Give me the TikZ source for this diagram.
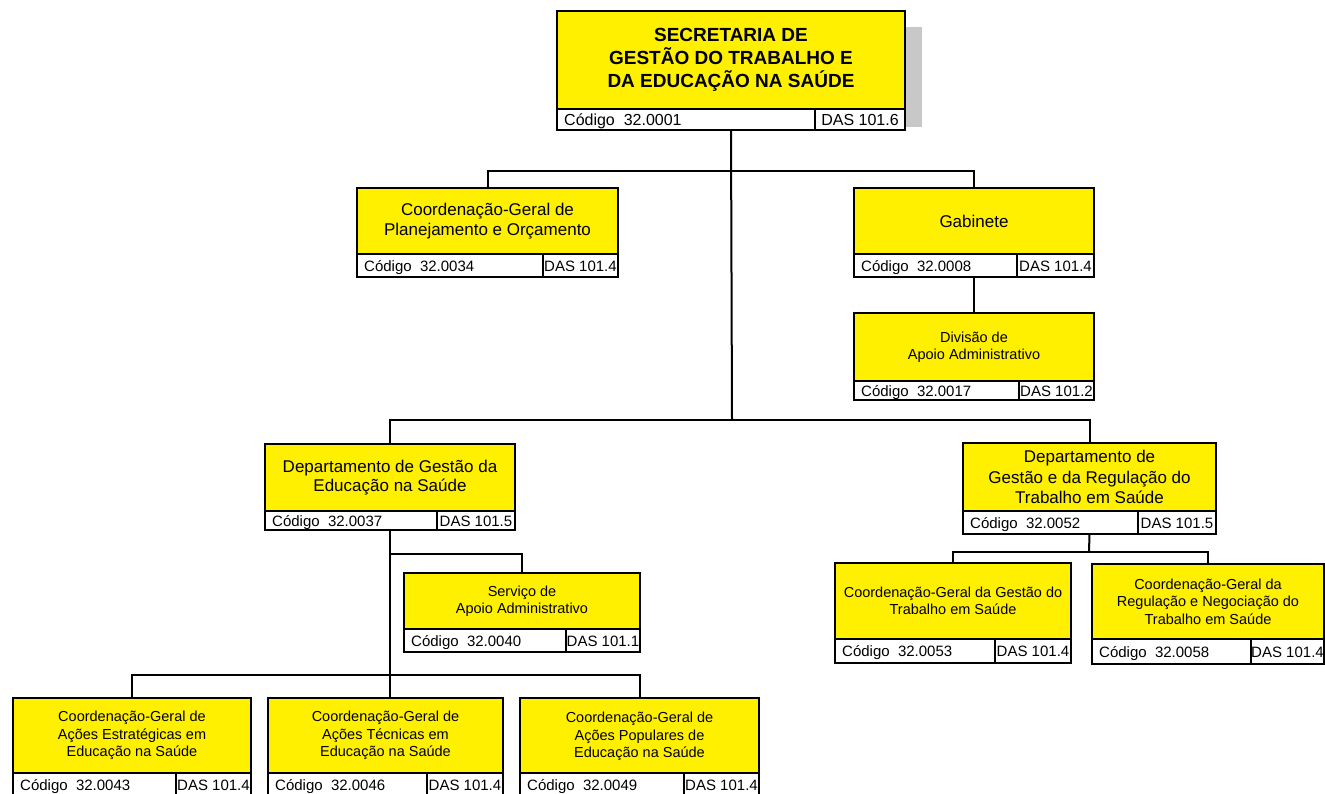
\documentclass[tikz,border=0pt]{standalone}
\usepackage{fontspec}
\setmainfont{Liberation Sans}
\definecolor{boxyellow}{RGB}{255,240,0}
\definecolor{shadowgray}{RGB}{200,200,200}
\tikzset{
  ybox/.style={rectangle, draw, line width=2pt, fill=boxyellow, inner sep=0pt, outer sep=0pt},
  cbox/.style={rectangle, draw, line width=2pt, fill=white, inner sep=0pt, outer sep=0pt},
  codetext/.style={inner sep=0pt, font=\fontsize{15}{17}\selectfont},
  bigtxt/.style={inner sep=0pt, align=center, font=\fontsize{17}{19.5}\selectfont},
  smalltxt/.style={inner sep=0pt, align=center, font=\fontsize{14.5}{17.5}\selectfont},
  titletxt/.style={inner sep=0pt, align=center, font=\fontsize{19}{23.3}\selectfont\bfseries},
  conn/.style={draw, line width=2pt}
}
% #1 name, #2 x1, #3 y1, #4 x2, #5 ysplit, #6 y2, #7 xdiv, #8 code, #9 das
\newcommand\orgbox[9]{%
  \node[ybox, minimum width={#4-#2}, minimum height={#5-#3}, anchor=north west] (#1) at (#2,#3) {};
  \node[cbox, minimum width={#7-#2}, minimum height={#6-#5}, anchor=north west] (#1c) at (#2,#5) {};
  \node[cbox, minimum width={#4-#7}, minimum height={#6-#5}, anchor=north west] (#1d) at (#7,#5) {};
  \node[codetext, anchor=base west] (#1ct) at ([xshift=7pt,yshift=-5.5pt]#1c.west) {Código\ \ #8};
  \node[codetext, anchor=base] (#1dt) at ([yshift=-5.5pt]#1d.center) {DAS #9};
}
\begin{document}
\begin{tikzpicture}[x=1pt, y=-1pt]
\useasboundingbox[fill=white] (0,0) rectangle (1325,793);

% shadow of top box
\fill[shadowgray] (895,27) rectangle (922,127);

% boxes
\begingroup
\tikzset{codetext/.append style={font=\fontsize{16}{18}\selectfont}}
\orgbox{top}{557}{11}{905}{109}{130}{815}{32.0001}{101.6}
\endgroup
\node[titletxt] (toptxt) at (top) {SECRETARIA DE\\GESTÃO DO TRABALHO E\\DA EDUCAÇÃO NA SAÚDE};

\orgbox{cgpo}{357}{188}{618}{254}{277}{543}{32.0034}{101.4}
\node[bigtxt] (cgpotxt) at (cgpo) {Coordenação-Geral de\\Planejamento e Orçamento};

\orgbox{gab}{854}{188}{1094}{254}{277}{1017}{32.0008}{101.4}
\node[bigtxt] (gabtxt) at (gab) {Gabinete};

\orgbox{div}{854}{313}{1094}{381}{400}{1019}{32.0017}{101.2}
\node[smalltxt] (divtxt) at (div) {Divisão de\\Apoio Administrativo};

\orgbox{dges}{265}{444}{515}{511}{530}{437}{32.0037}{101.5}
\node[bigtxt] (dgestxt) at (dges) {Departamento de Gestão da\\Educação na Saúde};

\orgbox{dreg}{963}{443}{1216}{511}{534}{1138}{32.0052}{101.5}
\node[bigtxt, font=\fontsize{17}{20.3}\selectfont] (dregtxt) at (dreg) {Departamento de\\Gestão e da Regulação do\\Trabalho em Saúde};

\orgbox{serv}{404}{573}{640}{629}{652}{566}{32.0040}{101.1}
\node[smalltxt] (servtxt) at (serv) {Serviço de\\Apoio Administrativo};

\orgbox{cggt}{835}{563}{1071}{639}{663}{995}{32.0053}{101.4}
\node[smalltxt] (cggttxt) at (cggt) {Coordenação-Geral da Gestão do\\Trabalho em Saúde};

\orgbox{cgrn}{1092}{564}{1324}{639}{664}{1251}{32.0058}{101.4}
\node[smalltxt] (cgrntxt) at (cgrn) {Coordenação-Geral da\\Regulação e Negociação do\\Trabalho em Saúde};

\orgbox{bone}{13}{698}{251}{773}{797}{176}{32.0043}{101.4}
\node[smalltxt] (bonetxt) at (bone) {Coordenação-Geral de\\Ações Estratégicas em\\Educação na Saúde};

\orgbox{btwo}{268}{698}{503}{773}{797}{427}{32.0046}{101.4}
\node[smalltxt] (btwotxt) at (btwo) {Coordenação-Geral de\\Ações Técnicas em\\Educação na Saúde};

\orgbox{bthree}{520}{698}{759}{773}{797}{684}{32.0049}{101.4}
\node[smalltxt] (bthreetxt) at ([yshift=-1pt]bthree.center) {Coordenação-Geral de\\Ações Populares de\\Educação na Saúde};

% junction coordinates
\coordinate (busA) at (732,171);
\coordinate (busB) at (732,420);
\coordinate (busC) at (390,554);
\coordinate (busD) at (390,675);
\coordinate (busE) at (1089,552);

% connectors
\draw[conn] (top.south |- topc.south) -- (busB);
\draw[conn] (cgpo.north) |- (busA) -| (gab.north);
\draw[conn] (gab.south |- gabc.south) -- (div.north);
\draw[conn] (dges.north) |- (busB) -| (dreg.north);
\draw[conn] (dges.south |- dgesc.south) -- (dges.south |- btwo.north);
\draw[conn] (busC) -| (serv.north);
\draw[conn] (bone.north) |- (busD) -| (bthree.north);
\draw[conn] (dreg.south |- dregc.south) -- (busE);
\draw[conn] (cggt.north) |- (busE) -| (cgrn.north);
\end{tikzpicture}
\end{document}
